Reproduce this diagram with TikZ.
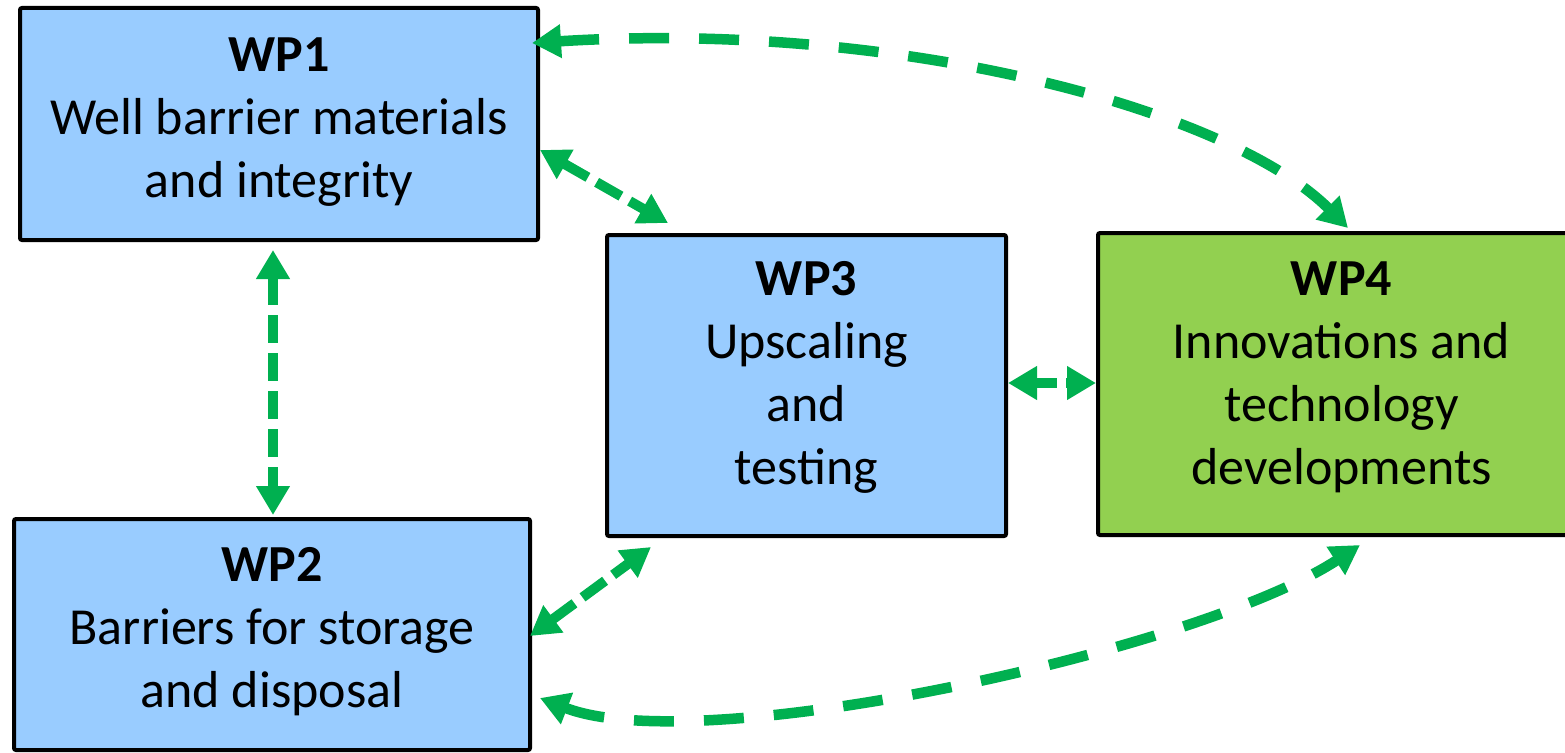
\documentclass[tikz,border=0pt]{standalone}
\usepackage{fontspec}
\setmainfont{Carlito}
\usetikzlibrary{arrows.meta,calc}
\definecolor{boxblue}{HTML}{99CCFF}
\definecolor{boxgreen}{HTML}{92D050}
\definecolor{arrgreen}{HTML}{00B050}
\begin{document}
\begin{tikzpicture}[x=1pt,y=-1pt,
  wpbox/.style={draw=black,line width=4pt,rounded corners=2pt,inner sep=0pt},
  wptext/.style={align=center,inner sep=0pt,font=\fontsize{52}{63}\selectfont},
  link/.style={draw=arrgreen,line width=10pt,
    {Triangle[length=29pt,width=32pt]}-{Triangle[length=29pt,width=32pt]}},
  longdash/.style={line width=10.5pt,dash pattern=on 40pt off 30pt},
  shortdash/.style={dash pattern=on 28pt off 10pt},
  tinydash/.style={dash pattern=on 22pt off 9pt}]
\useasboundingbox (0,0) rectangle (1565,752);
\begin{scope}
\clip (0,0) rectangle (1565,752);
\node[wpbox,fill=boxblue,minimum width=518pt,minimum height=232pt] (wp1) at (279,124) {};
\node[wpbox,fill=boxblue,minimum width=516pt,minimum height=231pt] (wp2) at (272,634.5) {};
\node[wpbox,fill=boxblue,minimum width=399pt,minimum height=301pt] (wp3) at (806.5,385.5) {};
\node[wpbox,fill=boxgreen,minimum width=487pt,minimum height=302pt] (wp4) at (1341.5,384) {};
\end{scope}
\node[wptext] (t1) at ($(wp1.center)+(0,-2)$) {\textbf{WP1}\\Well barrier materials\\and integrity};
\node[wptext] (t2) at ($(wp2.center)+(0,-3)$) {\textbf{WP2}\\Barriers for storage\\and disposal};
\node[wptext] (t3) at ($(wp3.center)+(0,-8)$) {\textbf{WP3}\\Upscaling\\and\\testing};
\node[wptext] (t4) at ($(wp4.center)+(0,-7)$) {\textbf{WP4}\\Innovations and\\technology\\developments};
\draw[link,longdash] ($(wp1.north east)+(-8,37)$) .. controls (900,20) and (1230,110) .. ($(wp4.north west)+(252,-3)$);
\draw[link,shortdash] ($(wp1.north east)+(0,144)$) -- ($(wp3.north west)+(63,-10)$);
\draw[link,shortdash] ($(wp1.south west)+(255,8)$) -- ($(wp2.north west)+(261,-2)$);
\draw[link,tinydash] ($(wp3.east)+(0,-2.5)$) -- ($(wp4.west)+(0,-1)$);
\draw[link,shortdash] ($(wp2.north east)+(-2,119)$) -- ($(wp3.south west)+(46,9)$);
\draw[link,longdash] ($(wp2.north east)+(8,181)$) .. controls (700,760) and (1200,650) .. ($(wp4.south west)+(264,8)$);
\end{tikzpicture}
\end{document}
